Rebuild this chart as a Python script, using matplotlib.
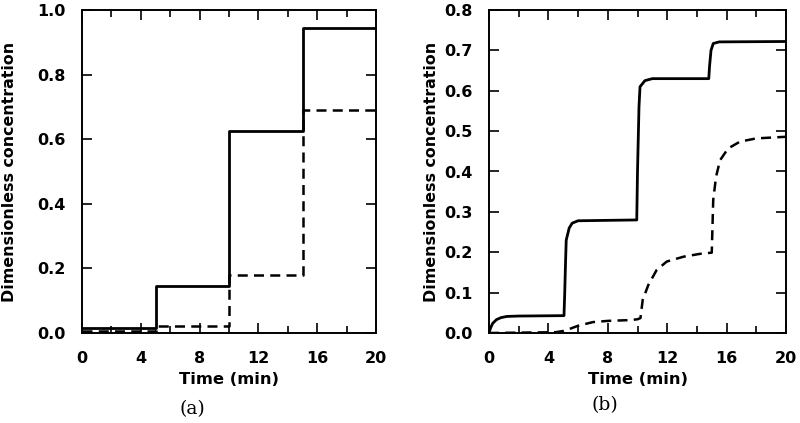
import matplotlib
matplotlib.use('Agg')
from matplotlib import pyplot as plt
from matplotlib.ticker import MultipleLocator
import numpy as np

# panel (a): step responses
t_a = [0, 5, 10, 15, 20]
solid_a = [0.015, 0.145, 0.625, 0.945, 0.945]
dash_a = [0.005, 0.022, 0.18, 0.69, 0.69]

# panel (b): smooth responses
t_b_solid = [0, 0.1, 0.25, 0.5, 0.8, 1.2, 2, 5.05, 5.1, 5.15, 5.2, 5.4, 5.6, 6,
             9.95, 10.0, 10.1, 10.17, 10.5, 11, 14.8, 14.85, 14.95, 15.1, 15.5, 20]
solid_b = [0, 0.012, 0.024, 0.033, 0.038, 0.041, 0.042, 0.043, 0.10, 0.17, 0.23, 0.26, 0.272, 0.278,
           0.28, 0.40, 0.56, 0.61, 0.625, 0.63, 0.63, 0.66, 0.70, 0.717, 0.721, 0.722]
t_b_dash = [0, 4.5, 5, 5.5, 6, 7, 8, 9.5, 10, 10.2, 10.35, 10.73, 11.29, 11.97, 13.1,
            14.2, 15.0, 15.1, 15.29, 15.56, 16.1, 16.9, 18.0, 20]
dash_b = [0, 0.002, 0.005, 0.011, 0.018, 0.027, 0.030, 0.032, 0.034, 0.037, 0.082, 0.119,
          0.156, 0.177, 0.189, 0.196, 0.199, 0.33, 0.387, 0.428, 0.457, 0.474, 0.482, 0.486]

fig = plt.figure(figsize=(8, 4.23), dpi=100)
W, H = 800, 423


def add_ax(x0, x1, y0, y1):
    return fig.add_axes([x0 / W, 1 - y1 / H, (x1 - x0) / W, (y1 - y0) / H])


def style(ax, ymax, ystep, ylab_x):
    ax.set_xlim(0, 20)
    ax.set_ylim(0, ymax)
    ax.xaxis.set_major_locator(MultipleLocator(4))
    ax.xaxis.set_minor_locator(MultipleLocator(2))
    ticks = np.arange(0, ymax + ystep / 2, ystep)
    ax.set_yticks(ticks)
    ax.set_yticklabels(['{:.1f}'.format(v) for v in ticks])
    ax.tick_params(which='both', direction='in', top=True, right=True, width=1.2)
    ax.tick_params(which='major', length=7, labelsize=11.5)
    ax.tick_params(which='minor', length=5)
    ax.tick_params(axis='x', pad=13)
    ax.tick_params(axis='y', pad=12)
    for lab in ax.get_xticklabels() + ax.get_yticklabels():
        lab.set_fontweight('bold')
    for s in ax.spines.values():
        s.set_linewidth(1.4)
    ax.set_xlabel('Time (min)', fontsize=11.8, fontweight='bold')
    ax.set_ylabel('Dimensionless concentration', fontsize=11.4, fontweight='bold')
    ax.xaxis.label.set_va('center')
    ax.yaxis.label.set_va('center')
    ax.xaxis.set_label_coords(0.5, -0.145)
    ax.yaxis.set_label_coords(ylab_x, 0.5)


ax1 = add_ax(82, 376, 10, 333)
ax1.step(t_a, solid_a, where='post', color='k', lw=2)
ax1.step(t_a, dash_a, where='post', color='k', lw=1.8, ls=(0, (4, 2.5)))
style(ax1, 1.0, 0.2, -0.245)
fig.text(192 / W, 1 - 409 / H, '(a)', family='DejaVu Serif', fontsize=13.5,
         ha='center', va='center')

ax2 = add_ax(489, 786, 10, 333)
ax2.plot(t_b_solid, solid_b, color='k', lw=2)
ax2.plot(t_b_dash, dash_b, color='k', lw=1.8, ls=(0, (4, 2.5)))
style(ax2, 0.8, 0.1, -0.192)
fig.text(605 / W, 1 - 405 / H, '(b)', family='DejaVu Serif', fontsize=13.5,
         ha='center', va='center')

fig.savefig('out.png', dpi=100)
